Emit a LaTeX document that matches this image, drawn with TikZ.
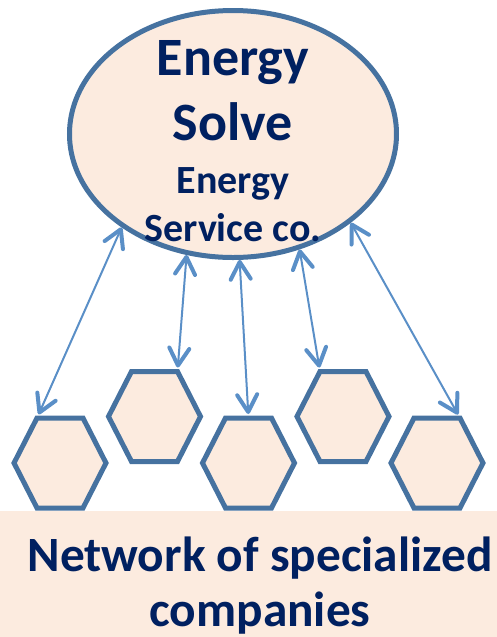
\documentclass[tikz,border=0pt]{standalone}
\usepackage{fontspec}
\setmainfont{Carlito}
\usetikzlibrary{positioning,arrows.meta,shapes.geometric}

\definecolor{peach}{HTML}{FCEBDF}
\definecolor{rim}{HTML}{4672A0}
\definecolor{linkblue}{HTML}{5A8FC7}
\definecolor{navy}{HTML}{002060}

\tikzset{
  hub/.style={ellipse, draw=rim, fill=peach, line width=3.75pt,
    minimum width=245.25pt, minimum height=185.25pt, inner sep=0pt},
  hexbox/.style={draw=rim, fill=peach, line width=3.75pt, line join=miter},
  bigtxt/.style={anchor=base, text=navy, font=\fontsize{40.5}{48}\selectfont\bfseries},
  smalltxt/.style={anchor=base, text=navy, font=\fontsize{30}{36}\selectfont\bfseries},
  nettxt/.style={anchor=base, text=navy, font=\fontsize{37}{44}\selectfont\bfseries},
  link/.style={draw=linkblue, line width=1.5pt, shorten >=3pt,
    {Straight Barb[length=13pt,width=15pt,line width=3pt,round]}-{Straight Barb[length=13pt,width=15pt,line width=3pt,round]}}
}

\begin{document}
\begin{tikzpicture}[x=0.75pt,y=-0.75pt]
  \useasboundingbox (0,0) rectangle (497,637);

  \node[hub] (es) at (233,134) {};
  \node[bigtxt] (name1) at (233,75) {Energy};
  \node[bigtxt] (name2) at (233,140) {Solve};
  \node[smalltxt] (sub1) at (233,193) {Energy};
  \node[smalltxt] (sub2) at (233,241) {Service co.};

  % hexagons, top corners kept for the links
  \foreach \n/\x/\y in {1/60/463, 2/154.5/416.5, 3/248.5/463, 4/343/416.5, 5/437/463} {
    \draw[hexbox] (\x-46,\y) -- (\x-23,\y-45) -- (\x+23,\y-45) -- (\x+46,\y)
      -- (\x+23,\y+45) -- (\x-23,\y+45) -- cycle;
    \coordinate (h\n l) at (\x-23,\y-45);
    \coordinate (h\n m) at (\x,\y-45);
    \coordinate (h\n r) at (\x+23,\y-45);
  }

  \draw[link] (es.220) -- (h1l);
  \draw[link] (es.249) -- (h2r);
  \draw[link] (es.273) -- (h3m);
  \draw[link] (es.300) -- (h4l);
  \draw[link] (es.323.5) -- (h5r);

  \fill[peach] (0,511) rectangle (497,637);
  \node[nettxt] (net1) at (260,571) {Network of specialized};
  \node[nettxt] (net2) at (260,626) {companies};
\end{tikzpicture}
\end{document}
